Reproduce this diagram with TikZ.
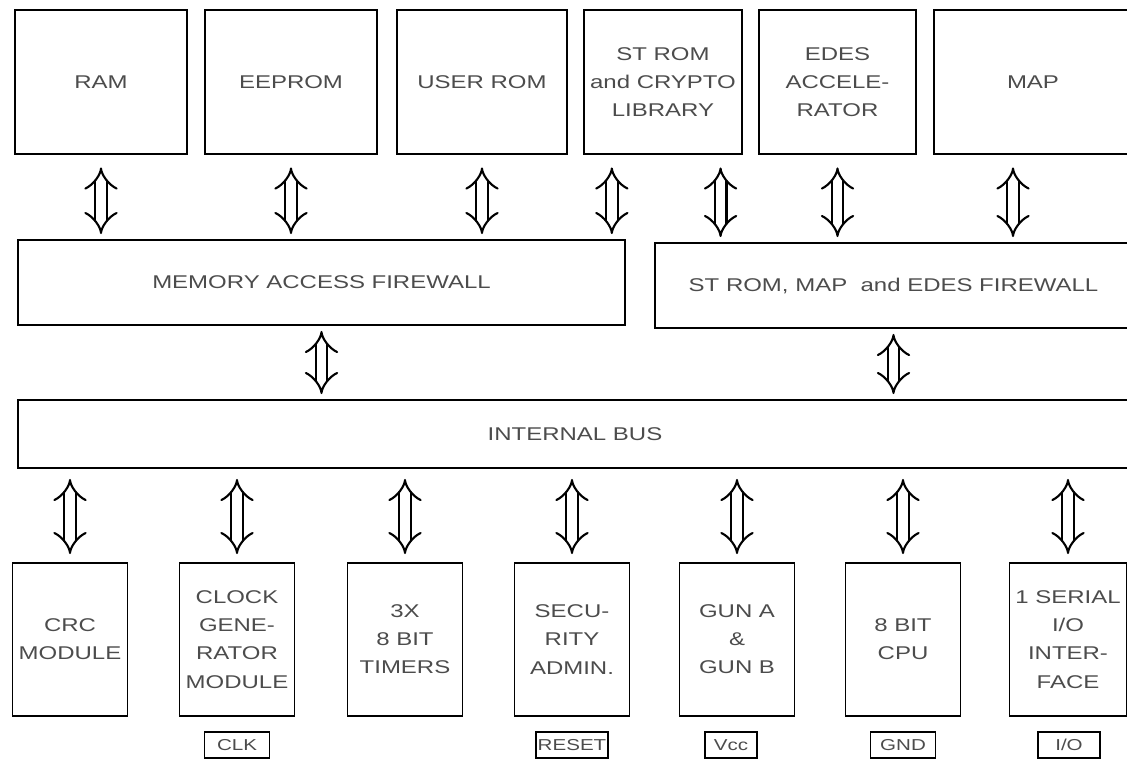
\documentclass[tikz,border=0pt]{standalone}
\usepackage{fontspec}
\setmainfont{Liberation Sans}[FakeStretch=1.3]
\usetikzlibrary{arrows.meta,calc}

\begin{document}
\begin{tikzpicture}[x=0.02cm, y=-0.02cm,
        blk/.style={draw, line width=1.1pt, align=center, text=black!70, font=\fontsize{10.5}{16}\selectfont},
        pin/.style={draw, line width=1.1pt, inner xsep=1pt, minimum width=1.3cm, minimum height=0.52cm, text=black!70, font=\fontsize{9}{10}\selectfont},
        link/.style={double, double distance=5.5pt, line width=1.2pt, {Implies}-{Implies}}]
                    \useasboundingbox (0, 0) rectangle (1127, 778);

                    % memories
                    \node [blk, minimum width=3.44cm, minimum height=2.88cm] (ram) at (101, 82) {RAM};
                    \node [blk, minimum width=3.44cm, minimum height=2.88cm] (eeprom) at (291, 82) {EEPROM};
                    \node [blk, minimum width=3.4cm, minimum height=2.88cm] (urom) at (482, 82) {USER ROM};
                    \node [blk, minimum width=3.16cm, minimum height=2.88cm] (strom) at (663, 82) {ST ROM\\and CRYPTO\\LIBRARY};
                    \node [blk, minimum width=3.14cm, minimum height=2.88cm] (edes) at (837.5, 82) {EDES\\ACCELE-\\RATOR};
                    \node [blk, minimum width=3.96cm, minimum height=2.88cm] (map) at (1033, 82) {MAP};

                    % firewalls and bus
                    \node [blk, minimum width=12.14cm, minimum height=1.7cm] (maf) at (321.5, 282.5) {MEMORY ACCESS FIREWALL};
                    \node [blk, minimum width=9.54cm, minimum height=1.7cm] (stf) at (893.5, 285.5) {ST ROM, MAP \ and EDES FIREWALL};
                    \node [blk, minimum width=22.28cm, minimum height=1.36cm] (ibus) at (575, 434) {INTERNAL BUS};

                    % peripherals
                    \node [blk, minimum width=2.3cm, minimum height=3.06cm] (crc) at (70, 639.5) {CRC\\MODULE};
                    \node [blk, minimum width=2.3cm, minimum height=3.06cm] (clock) at (237, 639.5) {CLOCK\\GENE-\\RATOR\\MODULE};
                    \node [blk, minimum width=2.3cm, minimum height=3.06cm] (timers) at (405, 639.5) {3X\\8 BIT\\TIMERS};
                    \node [blk, minimum width=2.3cm, minimum height=3.06cm] (secu) at (572, 639.5) {SECU-\\RITY\\ADMIN.};
                    \node [blk, minimum width=2.3cm, minimum height=3.06cm] (gun) at (737, 639.5) {GUN A\\\&\\GUN B};
                    \node [blk, minimum width=2.3cm, minimum height=3.06cm] (cpu) at (903, 639.5) {8 BIT\\CPU};
                    \node [blk, minimum width=2.3cm, minimum height=3.06cm] (sio) at (1068, 639.5) {1 SERIAL\\I/O\\INTER-\\FACE};

                    % pins
                    \node [pin] (clk) at (237, 745) {CLK};
                    \node [pin] (reset) at (572, 745) {RESET};
                    \node [pin, minimum width=1.04cm] (vcc) at (731, 745) {Vcc};
                    \node [pin] (gnd) at (903, 745) {GND};
                    \node [pin, minimum width=1.24cm] (io) at (1069, 745) {I/O};

                    % memory links
                    \draw [link, shorten <=0.25cm, shorten >=0.1cm] (ram.south) -- (ram.south |- maf.north);
                    \draw [link, shorten <=0.25cm, shorten >=0.1cm] (eeprom.south) -- (eeprom.south |- maf.north);
                    \draw [link, shorten <=0.25cm, shorten >=0.1cm] (urom.south) -- (urom.south |- maf.north);
                    \coordinate (s1) at ($ (strom.south west)!0.18!(strom.south east) $);
                    \coordinate (s2) at ($ (strom.south west)!0.86!(strom.south east) $);
                    \coordinate (m1) at ($ (map.south west)!0.4!(map.south east) $);
                    \draw [link, shorten <=0.25cm, shorten >=0.1cm] (s1) -- (s1 |- maf.north);
                    \draw [link, shorten <=0.25cm, shorten >=0.1cm] (s2) -- (s2 |- stf.north);
                    \draw [link, shorten <=0.25cm, shorten >=0.1cm] (edes.south) -- (edes.south |- stf.north);
                    \draw [link, shorten <=0.25cm, shorten >=0.1cm] (m1) -- (m1 |- stf.north);

                    % firewall links
                    \draw [link, shorten <=0.1cm, shorten >=0.1cm] (maf.south) -- (maf.south |- ibus.north);
                    \draw [link, shorten <=0.1cm, shorten >=0.1cm] (stf.south) -- (stf.south |- ibus.north);

                    % bus links
                    \draw [link, shorten <=0.2cm, shorten >=0.16cm] (crc.north |- ibus.south) -- (crc.north);
                    \draw [link, shorten <=0.2cm, shorten >=0.16cm] (clock.north |- ibus.south) -- (clock.north);
                    \draw [link, shorten <=0.2cm, shorten >=0.16cm] (timers.north |- ibus.south) -- (timers.north);
                    \draw [link, shorten <=0.2cm, shorten >=0.16cm] (secu.north |- ibus.south) -- (secu.north);
                    \draw [link, shorten <=0.2cm, shorten >=0.16cm] (gun.north |- ibus.south) -- (gun.north);
                    \draw [link, shorten <=0.2cm, shorten >=0.16cm] (cpu.north |- ibus.south) -- (cpu.north);
                    \draw [link, shorten <=0.2cm, shorten >=0.16cm] (sio.north |- ibus.south) -- (sio.north);
\end{tikzpicture}
\end{document}
